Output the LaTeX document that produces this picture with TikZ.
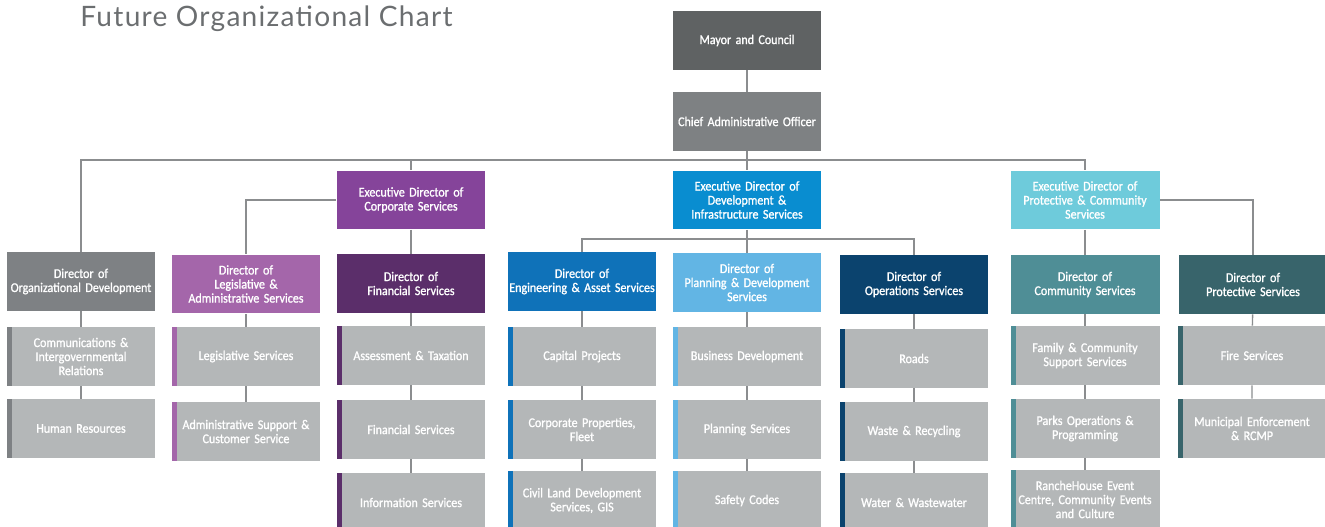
\documentclass[tikz,border=0pt]{standalone}
\usepackage{fontspec}
\setmainfont{Carlito}
\newfontfamily\boxfont[FakeBold=1.2, FakeStretch=0.9]{Carlito}
\newfontfamily\titlefont[LetterSpace=4.5]{Lato}
\usepackage{tikz}

\definecolor{titlegray}{HTML}{6B6E70}
\definecolor{linegray}{HTML}{8B8D8F}
\definecolor{subgray}{HTML}{B4B7B8}
\definecolor{mayorgray}{HTML}{5F6263}
\definecolor{caogray}{HTML}{7E8183}
\definecolor{corppurple}{HTML}{85449A}
\definecolor{devblue}{HTML}{098DD0}
\definecolor{protcyan}{HTML}{6ECBDB}
\definecolor{orggray}{HTML}{7E8184}
\definecolor{legpurple}{HTML}{A466AA}
\definecolor{finpurple}{HTML}{5B2E6A}
\definecolor{engblue}{HTML}{0F72B9}
\definecolor{planblue}{HTML}{62B5E4}
\definecolor{opsblue}{HTML}{0B436E}
\definecolor{commteal}{HTML}{4F8E96}
\definecolor{protteal}{HTML}{38646B}

\tikzset{
    box/.style={rectangle, minimum width=2.98cm, minimum height=1.18cm,
        text width=2.94cm, align=center, inner sep=0pt, text=white,
        font=\boxfont\fontsize{7.6}{8}\selectfont},
    head/.style={box, fill=#1},
    sub/.style={box, fill=subgray,
        path picture={\fill[#1] (path picture bounding box.south west)
            rectangle ([xshift=0.1cm]path picture bounding box.north west);}},
    link/.style={draw=linegray, line width=0.8pt},
}

\begin{document}
\begin{tikzpicture}[x=0.02cm, y=-0.02cm]
    \useasboundingbox (0,0) rectangle (1325,527);
    \node[anchor=base west, inner sep=0pt, text=titlegray, font=\titlefont\fontsize{16}{18}\selectfont] (title) at (80,27) {Future Organizational Chart};

    % top of the chart
    \node[head=mayorgray] (mayor) at (747,40.5) {Mayor and Council};
    \node[head=caogray] (cao) at (747,121.5) {Chief Administrative Officer};
    \coordinate (bus) at (747,160);

    % executive directors
    \node[head=corppurple] (edcorp) at (411,200) {Executive Director of\\Corporate Services};
    \node[head=devblue] (eddev) at (747,200) {Executive Director of\\Development \&\\Infrastructure Services};
    \node[head=protcyan] (edprot) at (1085,200) {Executive Director of\\Protective \& Community\\Services};
    \coordinate (devbus) at (747,239);

    % directors
    \node[head=orggray] (orgdev) at (81,281.5) {Director of\\Organizational Development};
    \node[head=legpurple] (legis) at (246,284) {Director of\\Legislative \&\\Administrative Services};
    \node[head=finpurple] (financial) at (411,283.5) {Director of\\Financial Services};
    \node[head=engblue] (engineering) at (582,281.5) {Director of\\Engineering \& Asset Services};
    \node[head=planblue] (planning) at (747,282.5) {Director of\\Planning \& Development\\Services};
    \node[head=opsblue] (operations) at (914,284.5) {Director of\\Operations Services};
    \node[head=commteal] (community) at (1085,284.5) {Director of\\Community Services};
    \node[head=protteal] (protective) at (1253,284.5) {Director of\\Protective Services};

    % services
    \node[sub=orggray] (comms) at (81,356.5) {Communications \&\\Intergovernmental\\Relations};
    \node[sub=orggray] (hr) at (81,428.5) {Human Resources};
    \node[sub=legpurple] (legserv) at (246,356.5) {Legislative Services};
    \node[sub=legpurple] (admin) at (246,431.5) {Administrative Support \&\\Customer Service};
    \node[sub=finpurple] (assess) at (411,355.5) {Assessment \& Taxation};
    \node[sub=finpurple] (finserv) at (411,429.5) {Financial Services};
    \node[sub=finpurple] (info) at (411,502.5) {Information Services};
    \node[sub=engblue] (capital) at (582,356.5) {Capital Projects};
    \node[sub=engblue] (corpprop) at (582,429.5) {Corporate Properties,\\Fleet};
    \node[sub=engblue] (civil) at (582,500.5) {Civil Land Development\\Services, GIS};
    \node[sub=planblue] (business) at (747,356.5) {Business Development};
    \node[sub=planblue] (planserv) at (747,429.5) {Planning Services};
    \node[sub=planblue] (safety) at (747,500.5) {Safety Codes};
    \node[sub=opsblue] (roads) at (914,358.5) {Roads};
    \node[sub=opsblue] (waste) at (914,431.5) {Waste \& Recycling};
    \node[sub=opsblue] (water) at (914,502.5) {Water \& Wastewater};
    \node[sub=commteal] (family) at (1085,355.5) {Family \& Community\\Support Services};
    \node[sub=commteal] (parks) at (1085,428.5) {Parks Operations \&\\Programming};
    \node[sub=commteal] (ranche) at (1085,499.5) {RancheHouse Event\\Centre, Community Events\\and Culture};
    \node[sub=protteal] (fire) at (1252,355.5) {Fire Services};
    \node[sub=protteal] (enforce) at (1252,428.5) {Municipal Enforcement\\\& RCMP};

    % connectors
    \draw[link] (mayor) -- (cao);
    \draw[link] (cao) -- (eddev);
    \draw[link] (orgdev.north) |- (bus) -| (edprot.north);
    \draw[link] (edcorp.north) -- (edcorp.north |- bus);
    \draw[link] (edcorp.west) -| (legis.north);
    \draw[link] (edcorp) -- (financial);
    \draw[link] (engineering.north) |- (devbus) -| (operations.north);
    \draw[link] (eddev) -- (planning);
    \draw[link] (edprot) -- (community);
    \draw[link] (edprot.east) -| (protective.north);

    \draw[link] (orgdev) -- (comms) -- (hr);
    \draw[link] (legis) -- (legserv) -- (admin);
    \draw[link] (financial) -- (assess) -- (finserv) -- (info);
    \draw[link] (engineering) -- (capital) -- (corpprop) -- (civil);
    \draw[link] (planning) -- (business) -- (planserv) -- (safety);
    \draw[link] (operations) -- (roads) -- (waste) -- (water);
    \draw[link] (community) -- (family) -- (parks) -- (ranche);
    \draw[link] (protective) -- (fire) -- (enforce);
\end{tikzpicture}
\end{document}
